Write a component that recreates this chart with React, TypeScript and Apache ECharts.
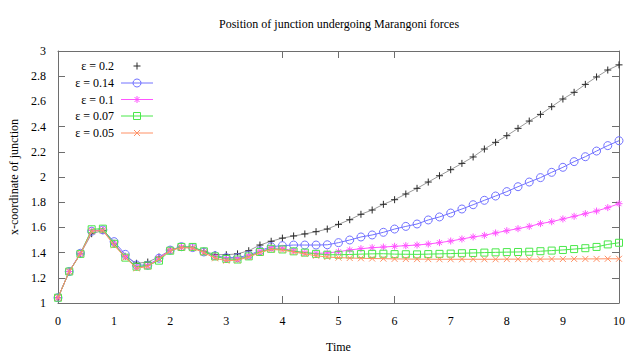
import React, { useEffect, useRef } from "react";
import * as echarts from "echarts";

const TIME = [
  0, 0.2, 0.4, 0.6, 0.8, 1, 1.2, 1.4, 1.6, 1.8, 2, 2.2, 2.4, 2.6, 2.8, 3, 3.2, 3.4, 3.6, 3.8, 4,
  4.2, 4.4, 4.6, 4.8, 5, 5.2, 5.4, 5.6, 5.8, 6, 6.2, 6.4, 6.6, 6.8, 7, 7.2, 7.4, 7.6, 7.8, 8,
  8.2, 8.4, 8.6, 8.8, 9, 9.2, 9.4, 9.6, 9.8, 10,
];

const SERIES_NAMES = ["ε = 0.2", "ε = 0.14", "ε = 0.1", "ε = 0.07", "ε = 0.05"];

const EPS_020 = [
  1.042, 1.25, 1.39, 1.55, 1.575, 1.47, 1.37, 1.315, 1.325, 1.365, 1.42, 1.445, 1.44, 1.41, 1.385,
  1.383, 1.39, 1.415, 1.46, 1.49, 1.515, 1.532, 1.548, 1.566, 1.587, 1.624, 1.661, 1.704, 1.738,
  1.783, 1.82, 1.865, 1.91, 1.96, 2.01, 2.058, 2.108, 2.159, 2.222, 2.275, 2.328, 2.386, 2.444,
  2.497, 2.558, 2.619, 2.672, 2.735, 2.794, 2.849, 2.89,
];
const EPS_014 = [
  1.042, 1.25, 1.395, 1.57, 1.58, 1.487, 1.386, 1.302, 1.3, 1.355, 1.42, 1.447, 1.44, 1.405, 1.375,
  1.36, 1.36, 1.38, 1.415, 1.447, 1.455, 1.46, 1.46, 1.46, 1.462, 1.479, 1.5, 1.524, 1.54, 1.561,
  1.587, 1.608, 1.627, 1.659, 1.683, 1.714, 1.746, 1.78, 1.815, 1.849, 1.884, 1.923, 1.96, 1.995,
  2.037, 2.077, 2.122, 2.161, 2.206, 2.249, 2.288,
];
const EPS_010 = [
  1.042, 1.25, 1.395, 1.575, 1.58, 1.475, 1.37, 1.285, 1.295, 1.355, 1.42, 1.445, 1.44, 1.405, 1.37,
  1.35, 1.35, 1.375, 1.41, 1.435, 1.434, 1.413, 1.4, 1.394, 1.397, 1.407, 1.421, 1.431, 1.439,
  1.444, 1.45, 1.455, 1.46, 1.468, 1.479, 1.492, 1.508, 1.524, 1.537, 1.556, 1.574, 1.59, 1.608,
  1.63, 1.645, 1.667, 1.688, 1.709, 1.73, 1.757, 1.788,
];
const EPS_007 = [
  1.042, 1.25, 1.39, 1.585, 1.59, 1.47, 1.36, 1.288, 1.297, 1.336, 1.415, 1.445, 1.445, 1.41, 1.37,
  1.35, 1.345, 1.37, 1.405, 1.43, 1.425, 1.41, 1.4, 1.39, 1.383, 1.383, 1.385, 1.388, 1.39, 1.391,
  1.388, 1.387, 1.386, 1.388, 1.39, 1.392, 1.395, 1.397, 1.4, 1.402, 1.404, 1.405, 1.407, 1.411,
  1.416, 1.421, 1.428, 1.435, 1.445, 1.465, 1.478,
];
const EPS_005 = [
  1.042, 1.25, 1.39, 1.57, 1.575, 1.458, 1.36, 1.275, 1.29, 1.35, 1.415, 1.44, 1.435, 1.4, 1.355,
  1.336, 1.34, 1.365, 1.4, 1.425, 1.42, 1.405, 1.39, 1.375, 1.365, 1.36, 1.357, 1.355, 1.353,
  1.352, 1.35, 1.349, 1.348, 1.348, 1.347, 1.347, 1.347, 1.347, 1.347, 1.347, 1.348, 1.348, 1.348,
  1.348, 1.349, 1.349, 1.35, 1.35, 1.35, 1.351, 1.351,
];

const X_TICKS_SHOWN = [4, 5, 6];
const Y_TICKS_SHOWN = [1, 1.2, 1.4, 1.6, 1.8, 2, 2.2, 2.4, 2.8, 3];

const FONT = "Liberation Serif, Times New Roman, serif";
const FRAME = "#6e6e6e";

const PLUS = "path://M0,5L10,5M5,0L5,10";
const CROSS = "path://M0,0L10,10M10,0L0,10";
const STAR = "path://M0,5L10,5M5,0L5,10M1.5,1.5L8.5,8.5M8.5,1.5L1.5,8.5";

const STYLES = [
  { line: "#9a9a9a", mark: "#2a2a2a", symbol: PLUS, size: 7 },
  { line: "#7272ff", mark: "#7272ff", symbol: "circle", size: 8 },
  { line: "#ff55ff", mark: "#ff55ff", symbol: STAR, size: 7 },
  { line: "#4ae84a", mark: "#4ae84a", symbol: "rect", size: 7 },
  { line: "#ff9166", mark: "#ff9166", symbol: CROSS, size: 6 },
];

const VALUES = [EPS_020, EPS_014, EPS_010, EPS_007, EPS_005];

function legendGraphics() {
  const els: any[] = [];
  const rows = [66, 83, 99.5, 116, 133];
  const tx = 114;
  const lx1 = 121;
  const lx2 = 153;
  const mx = 137;
  rows.forEach((y, i) => {
    const s = STYLES[i];
    els.push({
      type: "text",
      x: tx,
      y,
      style: {
        text: SERIES_NAMES[i],
        align: "right",
        verticalAlign: "middle",
        fontFamily: FONT,
        fontSize: 12,
        fill: "#000",
      },
    });
    if (i > 0) {
      els.push({
        type: "line",
        shape: { x1: lx1, y1: y, x2: lx2, y2: y },
        style: { stroke: s.line, lineWidth: 1 },
      });
    }
    const st = { stroke: s.mark, lineWidth: 1, fill: "none" };
    if (i === 0) {
      els.push({ type: "line", shape: { x1: mx - 3.5, y1: y, x2: mx + 3.5, y2: y }, style: st });
      els.push({ type: "line", shape: { x1: mx, y1: y - 3.5, x2: mx, y2: y + 3.5 }, style: st });
    } else if (i === 1) {
      els.push({ type: "circle", shape: { cx: mx, cy: y, r: 4 }, style: st });
    } else if (i === 2) {
      els.push({ type: "line", shape: { x1: mx - 3.5, y1: y, x2: mx + 3.5, y2: y }, style: st });
      els.push({ type: "line", shape: { x1: mx, y1: y - 3.5, x2: mx, y2: y + 3.5 }, style: st });
      els.push({ type: "line", shape: { x1: mx - 2.5, y1: y - 2.5, x2: mx + 2.5, y2: y + 2.5 }, style: st });
      els.push({ type: "line", shape: { x1: mx + 2.5, y1: y - 2.5, x2: mx - 2.5, y2: y + 2.5 }, style: st });
    } else if (i === 3) {
      els.push({ type: "rect", shape: { x: mx - 3.5, y: y - 3.5, width: 7, height: 7 }, style: st });
    } else {
      els.push({ type: "line", shape: { x1: mx - 3, y1: y - 3, x2: mx + 3, y2: y + 3 }, style: st });
      els.push({ type: "line", shape: { x1: mx + 3, y1: y - 3, x2: mx - 3, y2: y + 3 }, style: st });
    }
  });
  return els;
}

export default function App() {
  const ref = useRef<HTMLDivElement>(null);
  useEffect(() => {
    document.body.style.margin = "0";
    const chart = echarts.init(ref.current!, null, { renderer: "svg" });
    const axisCommon = {
      type: "value",
      axisLine: { show: true, onZero: false, lineStyle: { color: FRAME, width: 1 } },
      splitLine: { show: false },
    };
    const labelStyle = { fontFamily: FONT, fontSize: 12, color: "#000" };
    chart.setOption({
      animation: false,
      backgroundColor: "#ffffff",
      textStyle: { fontFamily: FONT },
      title: {
        text: "Position of junction undergoing Marangoni forces",
        left: 214,
        top: 13,
        textStyle: { fontFamily: FONT, fontSize: 12, fontWeight: "normal", color: "#000" },
      },
      grid: { left: 58, right: 18, top: 51, bottom: 55 },
      xAxis: [
        {
          ...axisCommon,
          position: "bottom",
          min: 0,
          max: 10,
          interval: 1,
          name: "Time",
          nameLocation: "middle",
          nameGap: 38,
          nameTextStyle: labelStyle,
          axisTick: { show: true, inside: true, length: 7, customValues: X_TICKS_SHOWN, lineStyle: { color: FRAME } },
          axisLabel: { ...labelStyle, margin: 12 },
        },
        {
          ...axisCommon,
          position: "top",
          min: 0,
          max: 10,
          interval: 1,
          axisTick: { show: true, inside: true, length: 7, customValues: X_TICKS_SHOWN, lineStyle: { color: FRAME } },
          axisLabel: { show: false },
        },
      ],
      yAxis: [
        {
          ...axisCommon,
          position: "left",
          min: 1,
          max: 3,
          interval: 0.2,
          name: "x-coordinate of junction",
          nameLocation: "middle",
          nameGap: 37,
          nameTextStyle: labelStyle,
          axisTick: { show: true, inside: true, length: 7, customValues: Y_TICKS_SHOWN, lineStyle: { color: FRAME } },
          axisLabel: { ...labelStyle, margin: 12 },
        },
        {
          ...axisCommon,
          position: "right",
          min: 1,
          max: 3,
          interval: 0.2,
          axisTick: { show: true, inside: true, length: 7, customValues: Y_TICKS_SHOWN, lineStyle: { color: FRAME } },
          axisLabel: { show: false },
        },
      ],
      series: VALUES.map((vals, i) => ({
        type: "line",
        name: SERIES_NAMES[i],
        xAxisIndex: 0,
        yAxisIndex: 0,
        data: TIME.map((t, k) => [t, vals[k]]),
        symbol: STYLES[i].symbol,
        symbolSize: STYLES[i].size,
        showAllSymbol: true,
        silent: true,
        lineStyle: { color: STYLES[i].line, width: 1 },
        itemStyle: { color: "transparent", borderColor: STYLES[i].mark, borderWidth: 1 },
        z: 2 + i,
      })),
      graphic: legendGraphics(),
    });
    return () => chart.dispose();
  }, []);
  return <div ref={ref} style={{ width: 637, height: 358 }} />;
}
